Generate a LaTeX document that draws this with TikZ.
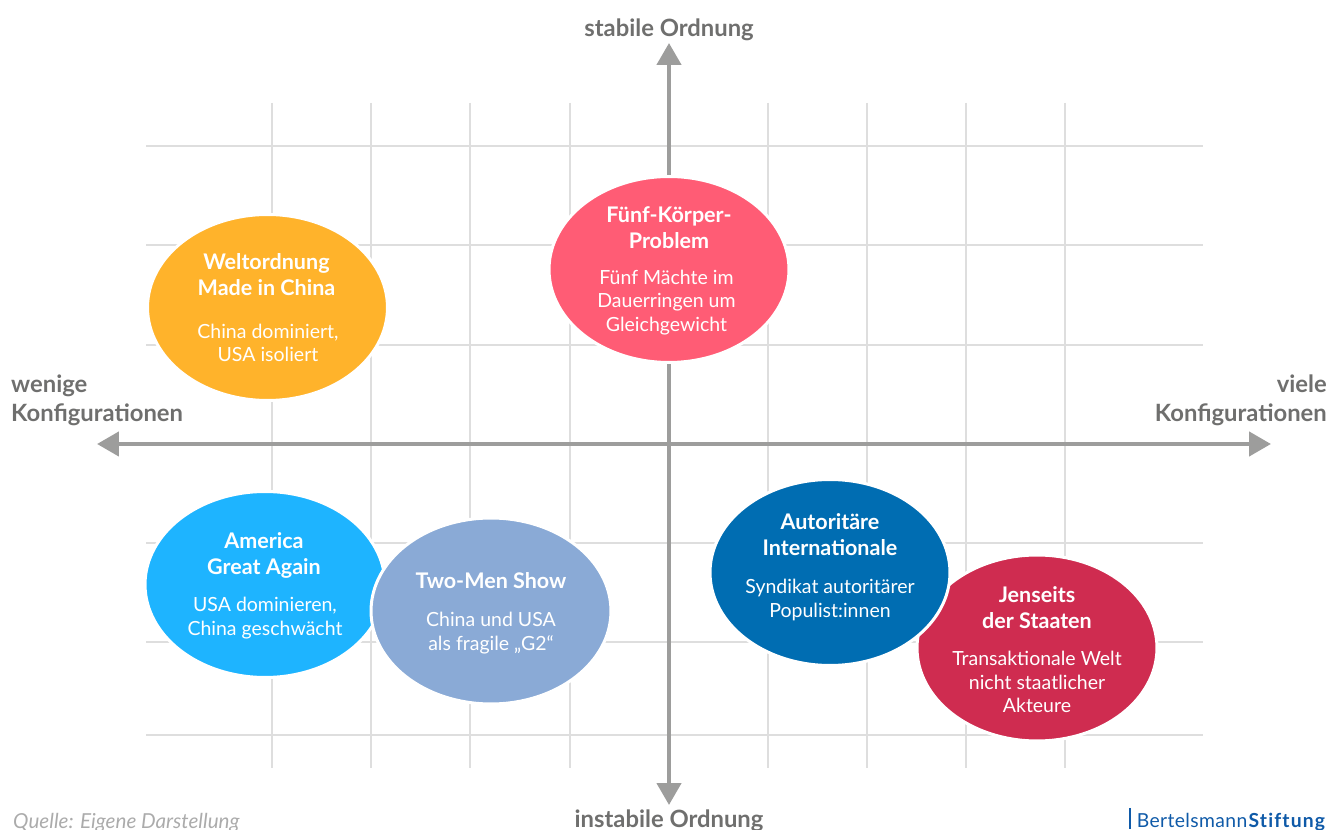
\documentclass[tikz,border=0pt]{standalone}
\usepackage{fontspec}
\usepackage{tikz}
\usetikzlibrary{arrows.meta,shapes.geometric}
\setmainfont{Lato}
\definecolor{gridgray}{HTML}{DEDEDE}
\definecolor{axisgray}{HTML}{9D9D9C}
\definecolor{labelgray}{HTML}{6F6F6E}
\definecolor{sourcegray}{HTML}{ABABAB}
\definecolor{logoblue}{HTML}{0F5AA8}
\definecolor{orangefill}{HTML}{FFB32B}
\definecolor{pinkfill}{HTML}{FF5C75}
\definecolor{cyanfill}{HTML}{1EB4FF}
\definecolor{paleblue}{HTML}{8AAAD6}
\definecolor{darkblue}{HTML}{006DB2}
\definecolor{redfill}{HTML}{CF2C50}
\tikzset{
	gridline/.style={gridgray,line width=0.03cm},
	axisline/.style={axisgray,line width=0.09cm,{Triangle[length=0.44cm,width=0.48cm]}-{Triangle[length=0.44cm,width=0.48cm]}},
	bubble/.style={ellipse,draw=white,line width=0.06cm,minimum width=4.8cm,minimum height=3.72cm,inner sep=0pt},
	bubbletitle/.style={white,align=center,font=\fontsize{12.25}{14.8}\selectfont\bfseries},
	bubbletext/.style={white,align=center,font=\fontsize{11.1}{13.4}\selectfont},
	axislabel/.style={labelgray,font=\fontsize{13.55}{16.5}\selectfont\bfseries}
}
\begin{document}
\begin{tikzpicture}[x=0.02cm,y=-0.02cm]
\useasboundingbox (0,0) rectangle (1329,830);

% grid
\foreach \i in {272,371,470,570,768,867,966,1065}{
	\draw[gridline] (\i,103) -- (\i,768);
}
\foreach \j in {146,245,345,543,642,735}{
	\draw[gridline] (146,\j) -- (1203,\j);
}

% axes
\coordinate (top) at (669,43);
\coordinate (bottom) at (669,805);
\coordinate (left) at (97,444);
\coordinate (right) at (1271,444);
\draw[axisline] (top) -- (bottom);
\draw[axisline] (left) -- (right);

\node[axislabel] (stable) at (669,30) {stabile Ordnung};
\node[axislabel] (unstable) at (669,821) {instabile Ordnung};
\node[axislabel,align=left,anchor=west] (few) at (5,400) {wenige\\Konfigurationen};
\node[axislabel,align=right,anchor=east] (many) at (1333,400) {viele\\Konfigurationen};

% scenarios
\node[bubble,fill=orangefill] (china) at (267.5,307.5) {};
\node[bubbletitle] (chinatitle) at (266.5,275) {Weltordnung\\Made in China};
\node[bubbletext] (chinatext) at (268,343) {China dominiert,\\USA isoliert};

\node[bubble,fill=pinkfill] (five) at (669,269.5) {};
\node[bubbletitle] (fivetitle) at (669,227.5) {Fünf-Körper-\\Problem};
\node[bubbletext] (fivetext) at (666.5,302.5) {Fünf Mächte im\\Dauerringen um\\Gleichgewicht};

\node[bubble,fill=cyanfill] (america) at (265,584.5) {};
\node[bubbletitle] (americatitle) at (264,555.5) {America\\Great Again};
\node[bubbletext] (americatext) at (265,618) {USA dominieren,\\China geschwächt};

\node[bubble,fill=paleblue] (twomen) at (491,611) {};
\node[bubbletitle] (twomentitle) at (491,581) {Two-Men Show};
\node[bubbletext] (twomentext) at (491,633) {China und USA\\als fragile „G2“};

\node[bubble,fill=redfill] (states) at (1037,648) {};
\node[bubbletitle] (statestitle) at (1037,608) {Jenseits\\der Staaten};
\node[bubbletext] (statestext) at (1037,682) {Transaktionale Welt\\nicht staatlicher\\Akteure};

\node[bubble,fill=darkblue] (autocrats) at (830,572.5) {};
\node[bubbletitle] (autocratstitle) at (830,535) {Autoritäre\\Internationale};
\node[bubbletext] (autocratstext) at (830,600) {Syndikat autoritärer\\Populist:innen};

% footer
\node[sourcegray,anchor=west,font=\fontsize{11.75}{13}\selectfont\itshape] (source) at (7,823) {Quelle: Eigene Darstellung};
\node[logoblue,anchor=east,font=\fontsize{11}{13}\selectfont] (logo) at (1332.5,822) {\addfontfeature{LetterSpace=2}Bertelsmann\hspace{0.5pt}\textbf{\addfontfeature{LetterSpace=6,Ligatures=NoCommon}Stiftung}};
\coordinate (bartop) at (1130,808);
\coordinate (barbottom) at (1130,829);
\draw[logoblue,line width=0.04cm] (bartop) -- (barbottom);
\end{tikzpicture}
\end{document}
